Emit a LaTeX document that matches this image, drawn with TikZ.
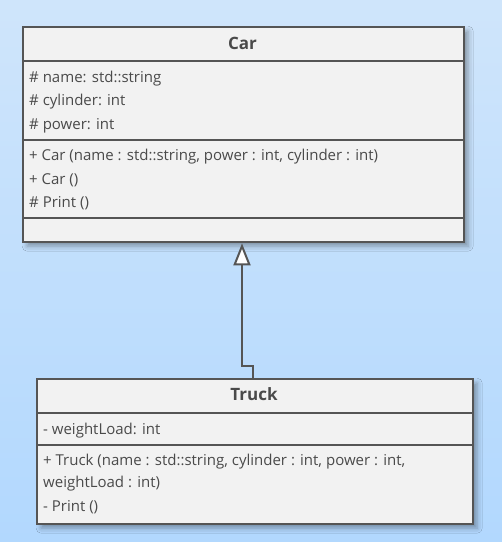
\documentclass[tikz,border=0pt]{standalone}
\usepackage{fontspec}
\setmainfont{Open Sans}
\usetikzlibrary{arrows.meta,shadows.blur,calc}
\definecolor{bgtop}{HTML}{CFE5FB}
\definecolor{bgbot}{HTML}{B2D8FE}
\definecolor{boxfill}{HTML}{F2F2F2}
\definecolor{boxline}{HTML}{555555}
\definecolor{txt}{HTML}{4A4A4A}
\tikzset{
  umlbox/.style={draw=boxline, fill=boxfill, line width=2.4pt, rectangle, inner sep=0pt, anchor=north west,
    blur shadow={shadow xshift=4pt, shadow yshift=-4pt, shadow blur radius=5pt, shadow opacity=35}},
  sep/.style={draw=boxline, line width=2pt},
  title/.style={font=\fontsize{17}{20}\selectfont\bfseries, text=txt, inner sep=0pt, text height=0.72em, text depth=0pt},
  member/.style={font=\fontsize{15}{18}\selectfont, text=txt, anchor=west, inner sep=0pt, text height=0.85em, text depth=0.05em},
  gen/.style={draw=boxline, line width=2.4pt, -{Triangle[length=22pt,width=17pt,fill=white,line width=2pt]}},
}
\begin{document}
\begin{tikzpicture}[x=1pt,y=-1pt]
\useasboundingbox (0,0) rectangle (502,542);
\shade[top color=bgtop, bottom color=bgbot] (0,0) rectangle (502,542);

% Car
\node[umlbox, minimum width=441pt, minimum height=215pt] (car) at (22,26) {};
\draw[sep] (22,61) -- (463,61);
\draw[sep] (22,140) -- (463,140);
\draw[sep] (22,218) -- (463,218);
\node[title] (cart) at (242.5,45.5) {Car};
\node[member] (ca1) at (29,78) {\# name: std::string};
\node[member] (ca2) at (29,101) {\# cylinder: int};
\node[member] (ca3) at (29,125) {\# power: int};
\node[member] (co1) at (29,156) {+ Car (name : std::string, power : int, cylinder : int)};
\node[member] (co2) at (29,180) {+ Car ()};
\node[member] (co3) at (29,203) {\# Print ()};

% Truck
\node[umlbox, minimum width=436pt, minimum height=145pt] (truck) at (36,378) {};
\draw[sep] (36,413) -- (472,413);
\draw[sep] (36,445) -- (472,445);
\node[title] (truckt) at (254,397) {Truck};
\node[member] (ta1) at (43,430) {- weightLoad: int};
\node[member] (to1) at (43,461) {+ Truck (name : std::string, cylinder : int, power : int,};
\node[member] (to1b) at (43,483) {weightLoad : int)};
\node[member] (to2) at (43,507) {- Print ()};

% Generalization
\coordinate (j1) at (253,366);
\coordinate (j2) at (242,366);
\draw[gen] (truck.north -| j1) -- (j1) -- (j2) -- (car.south -| j2);
\end{tikzpicture}
\end{document}
